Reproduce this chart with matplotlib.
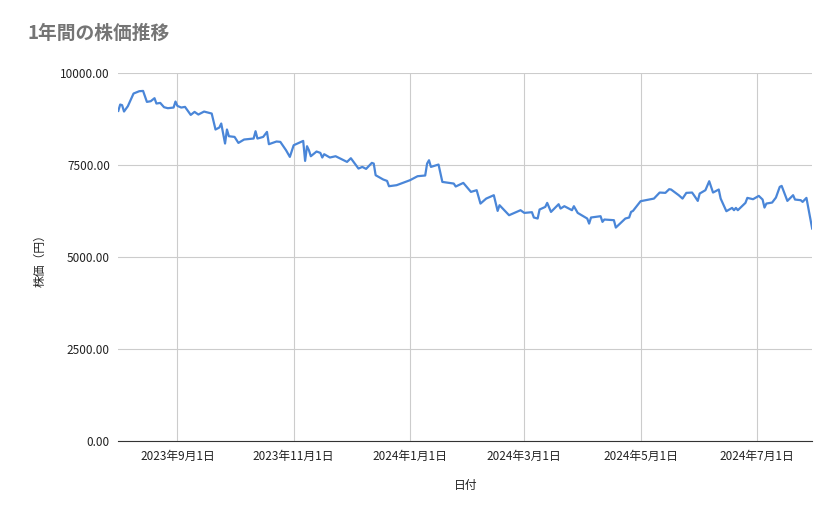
import matplotlib
matplotlib.use("Agg")
import matplotlib.pyplot as plt
import pandas as pd

plt.rcParams['font.family'] = ['Noto Sans CJK JP', 'DejaVu Sans']

start_date = "2023-08-01"
day_offsets = [0,1,2,3,5,8,11,13,15,17,19,20,22,24,26,29,30,31,33,35,38,40,42,45,49,51,53,54,56,57,58,61,63,66,71,72,73,76,78,79,83,85,88,90,92,97,98,99,100,101,104,106,107,108,111,114,120,122,126,128,130,133,134,135,139,141,142,146,153,157,161,162,163,164,168,170,176,177,181,185,188,190,191,193,197,199,200,205,211,213,217,218,220,221,224,225,227,231,232,234,238,239,241,246,247,248,253,254,255,260,261,266,268,269,270,274,281,284,287,289,290,294,296,298,301,302,304,305,308,310,312,315,316,319,322,323,324,325,329,330,333,336,338,339,340,343,345,347,348,351,354,355,358,359,361,364]
prices = [8975,9148,9130,8958,9102,9447,9510,9518,9220,9238,9320,9175,9192,9075,9048,9066,9229,9111,9066,9084,8866,8948,8876,8957,8903,8469,8523,8632,8088,8469,8287,8268,8105,8197,8224,8423,8224,8268,8404,8070,8143,8133,7906,7725,8042,8159,7616,8015,7906,7743,7871,7834,7708,7798,7708,7743,7589,7689,7408,7453,7399,7562,7544,7227,7110,7072,6928,6956,7091,7200,7219,7544,7634,7453,7517,7045,7000,6920,7018,6774,6820,6456,6502,6592,6684,6257,6412,6140,6276,6203,6222,6078,6050,6295,6366,6475,6230,6439,6321,6385,6276,6385,6203,6050,5912,6078,6113,5959,6023,6005,5804,6050,6078,6230,6257,6521,6592,6756,6747,6847,6838,6684,6592,6747,6756,6684,6529,6729,6820,7064,6756,6838,6592,6249,6339,6276,6339,6276,6475,6611,6575,6665,6566,6348,6457,6484,6620,6910,6937,6529,6684,6566,6548,6502,6611,5779]
tick_dates = ["2023-09-01","2023-11-01","2024-01-01","2024-03-01","2024-05-01","2024-07-01"]
tick_labels = ["2023年9月1日","2023年11月1日","2024年1月1日","2024年3月1日","2024年5月1日","2024年7月1日"]
y_ticks = [0, 2500, 5000, 7500, 10000]

dates = pd.to_datetime(start_date) + pd.to_timedelta(day_offsets, unit="D")

fig = plt.figure(figsize=(8.39, 5.19), dpi=100)
ax = fig.add_axes([0.141, 0.150, 0.827, 0.709])
ax.plot(dates, prices, color="#4a86d8", lw=1.6)
ax.set_xlim(dates[0], dates[-1])
ax.set_ylim(0, 10000)
ax.set_yticks(y_ticks)
ax.set_yticklabels([f"{v:.2f}" for v in y_ticks], fontsize=8.5, color="#222222")
xt = pd.to_datetime(tick_dates)
ax.set_xticks(xt)
ax.set_xticklabels(tick_labels, fontsize=8.5, color="#222222")
ax.grid(True, color="#cccccc", lw=0.8)
ax.set_axisbelow(True)
for s in ["top", "right", "left"]:
    ax.spines[s].set_visible(False)
ax.spines["bottom"].set_color("#333333")
ax.tick_params(length=0, pad=6)
ax.set_xlabel("日付", fontsize=8.5, labelpad=12, color="#222222")
ax.set_ylabel("株価（円）", fontsize=8.5, labelpad=10, color="#222222")
fig.text(0.033, 0.925, "1年間の株価推移", fontsize=13.5, color="#757575", fontweight="bold")
fig.savefig("out.png", dpi=100)
